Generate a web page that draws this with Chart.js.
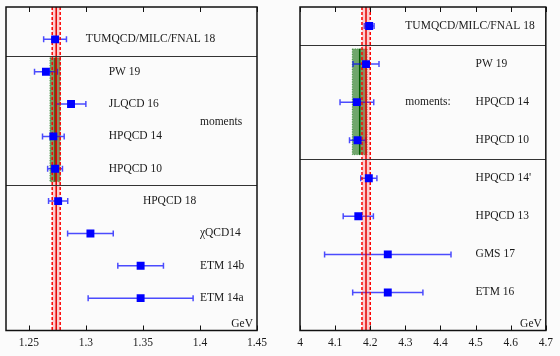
<!DOCTYPE html>
<html>
<head>
<meta charset="utf-8">
<script src="https://cdn.jsdelivr.net/npm/chart.js@4"></script>
<style>
  html, body { margin: 0; padding: 0; background: #fbfbfb; }
  .panel { position: absolute; top: 0; width: 280px; height: 356px; }
</style>
</head>
<body>
<div class="panel" style="left:0"><canvas id="left" width="280" height="356"></canvas></div>
<div class="panel" style="left:280px"><canvas id="right" width="280" height="356"></canvas></div>
<script>
// left panel: m_c
const LEFT_NAMES = ["TUMQCD/MILC/FNAL 18", "PW 19", "JLQCD 16", "HPQCD 14", "HPQCD 10",
                    "HPQCD 18", "χQCD14", "ETM 14b", "ETM 14a"];
const LEFT_VALUES = [1.273, 1.265, 1.287, 1.2715, 1.273, 1.2757, 1.304, 1.348, 1.348];
const LEFT_ERRORS = [0.010, 0.010, 0.013, 0.0095, 0.0065, 0.0084, 0.020, 0.020, 0.046];
const LEFT_TICKS = [1.25, 1.3, 1.35, 1.4, 1.45];
const LEFT_AVG = [1.2705, 1.274, 1.2775];      // red band lo, centre, hi
const LEFT_MOMENTS = [1.2685, 1.273, 1.2775];  // green band lo, centre, hi

// right panel: m_b
const RIGHT_NAMES = ["TUMQCD/MILC/FNAL 18", "PW 19", "HPQCD 14", "HPQCD 10",
                     "HPQCD 14'", "HPQCD 13", "GMS 17", "ETM 16"];
const RIGHT_VALUES = [4.197, 4.188, 4.162, 4.164, 4.196, 4.166, 4.25, 4.25];
const RIGHT_ERRORS = [0.014, 0.037, 0.048, 0.023, 0.023, 0.043, 0.18, 0.10];
const RIGHT_TICKS = [4, 4.1, 4.2, 4.3, 4.4, 4.5, 4.6, 4.7];
const RIGHT_AVG = [4.1765, 4.188, 4.2];
const RIGHT_MOMENTS = [4.149, 4.170, 4.191];

const FONT = "'Liberation Serif', 'DejaVu Serif', serif";

const panelPlugin = {
  id: 'panel',
  beforeDatasetsDraw(chart, args, o) {
    const {ctx, chartArea: a, scales: {x, y}} = chart;
    ctx.save();
    ctx.beginPath();
    ctx.rect(a.left, a.top, a.right - a.left, a.bottom - a.top);
    ctx.clip();

    // moments band (green)
    const gx1 = x.getPixelForValue(o.moments[0]), gx2 = x.getPixelForValue(o.moments[2]);
    const gy1 = y.getPixelForValue(o.momentRows[0]), gy2 = y.getPixelForValue(o.momentRows[1]);
    ctx.fillStyle = 'rgba(45,125,40,0.68)';
    ctx.fillRect(gx1, gy1, gx2 - gx1, gy2 - gy1);
    ctx.strokeStyle = 'rgba(0,110,0,0.6)';
    ctx.lineWidth = 1;
    ctx.setLineDash([1, 1.5]);
    ctx.strokeRect(gx1, gy1, gx2 - gx1, gy2 - gy1);
    ctx.setLineDash([]);
    const gc = x.getPixelForValue(o.moments[1]);
    ctx.strokeStyle = '#005a00';
    ctx.lineWidth = 1.5;
    ctx.beginPath(); ctx.moveTo(gc, gy1); ctx.lineTo(gc, gy2); ctx.stroke();

    // error bars
    ctx.strokeStyle = 'rgba(0,0,255,0.7)';
    ctx.lineWidth = 1.5;
    o.values.forEach((v, i) => {
      const py = y.getPixelForValue(i);
      const lo = x.getPixelForValue(v - o.errors[i]);
      const hi = x.getPixelForValue(v + o.errors[i]);
      ctx.beginPath();
      ctx.moveTo(lo, py); ctx.lineTo(hi, py);
      ctx.moveTo(lo, py - 3); ctx.lineTo(lo, py + 3);
      ctx.moveTo(hi, py - 3); ctx.lineTo(hi, py + 3);
      ctx.stroke();
    });

    // average band (red)
    const r1 = x.getPixelForValue(o.avg[0]), rc = x.getPixelForValue(o.avg[1]), r2 = x.getPixelForValue(o.avg[2]);
    ctx.fillStyle = 'rgba(255,40,40,0.22)';
    ctx.fillRect(r1, a.top, r2 - r1, a.bottom - a.top);
    ctx.strokeStyle = '#ff0000';
    ctx.lineWidth = 1.5;
    ctx.setLineDash([3, 2]);
    ctx.beginPath();
    ctx.moveTo(r1, a.top); ctx.lineTo(r1, a.bottom);
    ctx.moveTo(r2, a.top); ctx.lineTo(r2, a.bottom);
    ctx.stroke();
    ctx.setLineDash([]);
    ctx.strokeStyle = '#e00000';
    ctx.beginPath(); ctx.moveTo(rc, a.top); ctx.lineTo(rc, a.bottom); ctx.stroke();

    // group separators
    ctx.strokeStyle = '#333';
    ctx.lineWidth = 1;
    o.separators.forEach(s => {
      const py = Math.round(y.getPixelForValue(s)) + 0.5;
      ctx.beginPath(); ctx.moveTo(a.left, py); ctx.lineTo(a.right, py); ctx.stroke();
    });
    ctx.restore();
  },
  afterDatasetsDraw(chart, args, o) {
    const {ctx, chartArea: a, scales: {x, y}} = chart;
    ctx.save();
    // frame
    ctx.strokeStyle = '#111';
    ctx.lineWidth = 1.5;
    ctx.strokeRect(a.left, a.top, a.right - a.left, a.bottom - a.top);
    // inward ticks, top and bottom
    ctx.lineWidth = 1;
    o.ticks.forEach(t => {
      const px = Math.round(x.getPixelForValue(t)) + 0.5;
      ctx.beginPath();
      ctx.moveTo(px, a.top); ctx.lineTo(px, a.top + 5);
      ctx.moveTo(px, a.bottom); ctx.lineTo(px, a.bottom - 5);
      ctx.stroke();
    });
    // labels
    ctx.fillStyle = '#1a1a1a';
    ctx.font = '11.5px ' + FONT;
    ctx.textBaseline = 'middle';
    ctx.textAlign = 'left';
    o.names.forEach((n, i) => {
      ctx.fillText(n, x.getPixelForValue(o.labelX[i]), y.getPixelForValue(i));
    });
    ctx.fillText(o.groupLabel[0], x.getPixelForValue(o.groupLabel[1]), y.getPixelForValue(o.groupLabel[2]));
    ctx.textAlign = 'right';
    ctx.textBaseline = 'bottom';
    ctx.fillText('GeV', a.right - 4, a.bottom - 1);
    ctx.restore();
  }
};

function makePanel(id, names, values, errors, ticks, xMin, xMax, yMin, yMax, pad, extra) {
  const ctx = document.getElementById(id).getContext('2d');
  return new Chart(ctx, {
    type: 'scatter',
    data: {
      datasets: [{
        data: values.map((v, i) => ({x: v, y: i})),
        pointStyle: 'rect',
        pointRadius: 5.6,
        pointHoverRadius: 5.6,
        backgroundColor: '#0000ff',
        borderWidth: 0
      }]
    },
    options: {
      responsive: false,
      animation: false,
      devicePixelRatio: 1,
      layout: { padding: pad },
      scales: {
        x: {
          type: 'linear',
          min: xMin,
          max: xMax,
          afterBuildTicks: s => { s.ticks = ticks.map(v => ({value: v})); },
          grid: { display: false, drawTicks: false },
          border: { display: false },
          ticks: {
            padding: 7,
            color: '#1a1a1a',
            font: { family: FONT, size: 11.5, lineHeight: 1 },
            callback: v => String(v)
          }
        },
        y: { type: 'linear', display: false, reverse: true, min: yMin, max: yMax }
      },
      plugins: {
        legend: { display: false },
        tooltip: { enabled: false },
        panel: Object.assign({ names, values, errors, ticks }, extra)
      }
    },
    plugins: [panelPlugin]
  });
}

makePanel('left', LEFT_NAMES, LEFT_VALUES, LEFT_ERRORS, LEFT_TICKS, 1.23, 1.45, -1, 9,
  { left: 6, right: 23, top: 7, bottom: 0 },
  {
    avg: LEFT_AVG,
    moments: LEFT_MOMENTS,
    momentRows: [0.57, 4.4],
    separators: [0.5, 4.5],
    labelX: [1.30, 1.32, 1.32, 1.32, 1.32, 1.35, 1.40, 1.40, 1.40],
    groupLabel: ['moments', 1.40, 2.55]
  });

makePanel('right', RIGHT_NAMES, RIGHT_VALUES, RIGHT_ERRORS, RIGHT_TICKS, 4.0, 4.7, -0.5, 8,
  { left: 20, right: 9, top: 7, bottom: 0 },
  {
    avg: RIGHT_AVG,
    moments: RIGHT_MOMENTS,
    momentRows: [0.6, 3.38],
    separators: [0.5, 3.5],
    labelX: [4.30, 4.50, 4.50, 4.50, 4.50, 4.50, 4.50, 4.50],
    groupLabel: ['moments:', 4.30, 2]
  });
</script>
</body>
</html>
